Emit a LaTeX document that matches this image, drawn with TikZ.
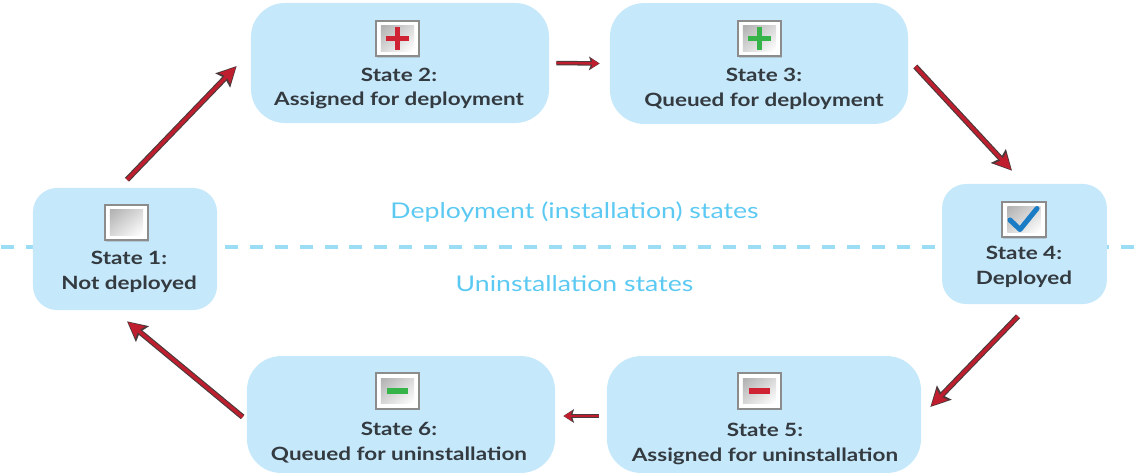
\documentclass[tikz,border=0pt]{standalone}
\usepackage{fontspec}
\setmainfont{Lato}[FakeStretch=1.23]
\usepackage{xcolor}
\usetikzlibrary{arrows.meta,calc,shadows}
\definecolor{boxblue}{HTML}{C6E8FB}
\definecolor{dashblue}{HTML}{9ADDF4}
\definecolor{headblue}{HTML}{5CC9F2}
\definecolor{arrowred}{HTML}{BE1E2D}
\definecolor{arrowdark}{HTML}{4A3A3C}
\definecolor{signred}{HTML}{CF2233}
\definecolor{signgreen}{HTML}{36B44A}
\definecolor{signblue}{HTML}{1A7CC4}
\definecolor{textgray}{HTML}{333A40}
\definecolor{iconframe}{HTML}{8C8C8C}
\tikzset{
	statebox/.style={rectangle,fill=boxblue,rounded corners=0.6cm,inner sep=0pt},
	widebox/.style={statebox,rounded corners=0.85cm},
	statetext/.style={align=center,text=textgray,font=\fontsize{13}{17.7}\selectfont\bfseries,inner sep=0pt},
	headtext/.style={text=headblue,font=\fontsize{15.4}{18}\selectfont,inner sep=0pt},
	iconbox/.style={rectangle,draw=iconframe,line width=1.3pt,fill=white,minimum width=1.08cm,minimum height=0.88cm,inner sep=0pt,
		drop shadow={shadow xshift=0.5pt,shadow yshift=-1pt,opacity=0.3},
		path picture={\shade[top color=black!30,bottom color=white,shading angle=40]
			([shift={(5,5)}]path picture bounding box.north west) rectangle ([shift={(-5,-5)}]path picture bounding box.south east);}},
	flow/.style={draw=arrowred,line width=2.4pt,shorten >=1pt,-{Stealth[length=11pt,width=10.5pt,inset=1.5pt]},
		preaction={draw=arrowdark,line width=4pt,shorten >=0pt,-{Stealth[length=14pt,width=14pt,inset=2pt]}}},
	flowshort/.style={draw=arrowred,line width=1.7pt,shorten >=0.5pt,-{Stealth[length=5.5pt,width=7pt,inset=1pt]},
		preaction={draw=arrowdark,line width=3.2pt,shorten >=0pt,-{Stealth[length=7.5pt,width=9.5pt,inset=1.5pt]}}},
	signred/.style={draw=signred,line width=4.2pt},
	signgreen/.style={draw=signgreen,line width=4.2pt},
	signblue/.style={draw=signblue,line width=3.6pt,line cap=round,line join=round}
}
\begin{document}
\begin{tikzpicture}[x=0.025cm,y=-0.025cm]
	\useasboundingbox (0,0) rectangle (1136,475);
	% border between the two groups
	\coordinate (leftend) at (1,247);
	\coordinate (rightend) at (1136,247);
	\draw [dashblue,line width=2.7pt,dash pattern=on 9.2pt off 8.5pt] (leftend) -- (rightend);
	% states
	\node (s1) [statebox,minimum width=4.6cm,minimum height=3.05cm] at (125,249) {};
	\node (s2) [widebox,minimum width=7.45cm,minimum height=3cm] at (400,63) {};
	\node (s3) [widebox,minimum width=7.45cm,minimum height=3.02cm] at (759,63.5) {};
	\node (s4) [statebox,minimum width=4.12cm,minimum height=3cm] at (1024.5,244) {};
	\node (s5) [widebox,minimum width=7.85cm,minimum height=2.92cm] at (764,414.5) {};
	\node (s6) [widebox,minimum width=7.7cm,minimum height=2.92cm] at (401,414.5) {};
	% icons
	\node (i1) [iconbox] at (126.5,222.5) {};
	\node (i2) [iconbox] at (397.5,38.5) {};
	\node (i3) [iconbox] at (759.5,38.5) {};
	\node (i4) [iconbox] at (1024,219.5) {};
	\node (i5) [iconbox] at (759.5,391) {};
	\node (i6) [iconbox] at (397.5,391) {};
	\draw [signred] ([xshift=-0.28cm]i2.center) -- ([xshift=0.28cm]i2.center);
	\draw [signred] ([yshift=-0.28cm]i2.center) -- ([yshift=0.28cm]i2.center);
	\draw [signgreen] ([xshift=-0.28cm]i3.center) -- ([xshift=0.28cm]i3.center);
	\draw [signgreen] ([yshift=-0.28cm]i3.center) -- ([yshift=0.28cm]i3.center);
	\draw [signblue] ([shift={(-14,0.5)}]i4.center) -- ([shift={(-4,10)}]i4.center) -- ([shift={(13,-11)}]i4.center);
	\draw [signred,line width=3.6pt] ([xshift=-0.27cm]i5.center) -- ([xshift=0.27cm]i5.center);
	\draw [signgreen,line width=3.6pt] ([xshift=-0.27cm]i6.center) -- ([xshift=0.27cm]i6.center);
	% labels
	\node (t1) [statetext] at (129,271.5) {State 1:\\Not deployed};
	\node (t2) [statetext] at (399,88.5) {State 2:\\Assigned for deployment};
	\node (t3) [statetext] at (764,88.5) {State 3:\\Queued for deployment};
	\node (t4) [statetext] at (1024,267) {State 4:\\Deployed};
	\node (t5) [statetext] at (765,444) {State 5:\\Assigned for uninstallation};
	\node (t6) [statetext] at (399,443) {State 6:\\Queued for uninstallation};
	\node (deploy) [headtext] at (574.5,212) {Deployment (installation) states};
	\node (uninstall) [headtext] at (574.5,284) {Uninstallation states};
	% transitions
	\draw [flow] ([shift={(2,-8)}]s1.north) -- ([shift={(-14,3)}]s2.west);
	\draw [flowshort] ([shift={(7,0)}]s2.east) -- ([shift={(-10,0)}]s3.west);
	\draw [flow] ([shift={(7,3)}]s3.east) -- ([shift={(-12.5,-13)}]s4.north);
	\draw [flow] ([shift={(-6.5,12)}]s4.south) -- ([shift={(9,-7.5)}]s5.east);
	\draw [flowshort] ([shift={(-8,1.5)}]s5.west) -- ([shift={(8,1.5)}]s6.east);
	\draw [flow] ([shift={(-4,2.5)}]s6.west) -- ([shift={(2,11)}]s1.south);
\end{tikzpicture}
\end{document}
